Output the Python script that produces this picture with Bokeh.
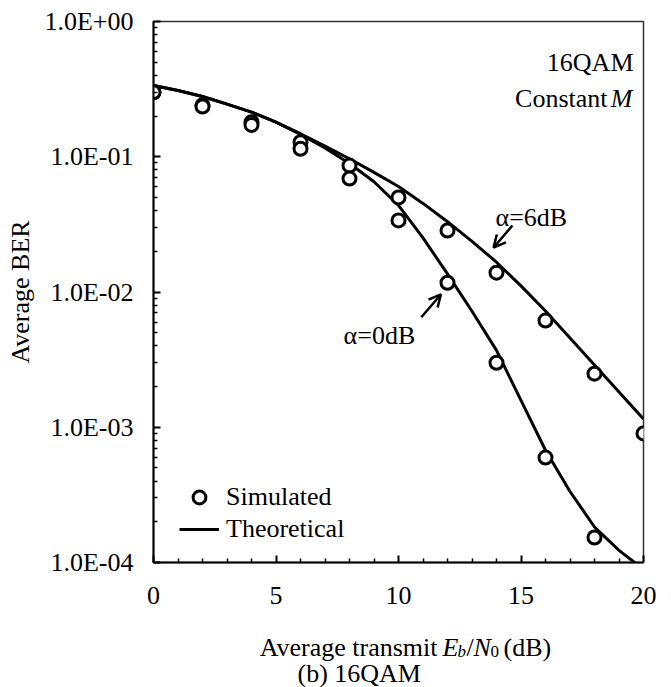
from bokeh.plotting import figure
from bokeh.layouts import column
from bokeh.models import (Range1d, FixedTicker, CustomJSTickFormatter, Legend, LegendItem,
                          Label, Arrow, OpenHead)
from bokeh.core.properties import value
from bokeh.embed import file_html
from bokeh.resources import INLINE

# ---------------- data ----------------
snr_sim = [0, 2, 4, 6, 8, 10, 12, 14, 16, 18, 20]
ber_sim_a6 = [0.30, 0.24, 0.18, 0.128, 0.086, 0.050, 0.0285, 0.0139, 0.00615, 0.00249, 0.0009]
snr_sim_a0 = [0, 2, 4, 6, 8, 10, 12, 14, 16, 18]
ber_sim_a0 = [0.30, 0.235, 0.172, 0.1145, 0.069, 0.0338, 0.0117, 0.0030, 0.000597, 0.000153]

snr_th = [0, 1, 2, 3, 4, 5, 6, 7, 8, 9, 10, 11, 12, 13, 14, 15, 16, 17, 18, 19, 20]
ber_th_a6 = [0.336, 0.309, 0.279, 0.245, 0.214, 0.180, 0.148, 0.120, 0.0966, 0.0767, 0.0603,
             0.0452, 0.0331, 0.0237, 0.0166, 0.0111, 0.00724, 0.00457, 0.00288, 0.00182, 0.00115]
ber_th_a0 = [0.336, 0.309, 0.279, 0.245, 0.214, 0.180, 0.146, 0.116, 0.0891, 0.0653, 0.0437,
             0.0251, 0.0136, 0.0072, 0.0037, 0.00158, 0.000676, 0.000335, 0.000183, 0.000123, 0.000089]

x_ticks = [0, 5, 10, 15, 20]
x_minor_ticks = [1, 2, 3, 4, 6, 7, 8, 9, 11, 12, 13, 14, 16, 17, 18, 19]
y_ticks = [1e-4, 1e-3, 1e-2, 1e-1, 1.0]
y_tick_labels = ["1.0E-04", "1.0E-03", "1.0E-02", "1.0E-01", "1.0E+00"]

FONT = "Liberation Serif"
FS = "26px"

p = figure(width=671, height=625,
           x_range=Range1d(0, 20), y_range=Range1d(1e-4, 1.0), y_axis_type="log",
           output_backend="svg", toolbar_location=None,
           min_border_left=153, min_border_right=28, min_border_top=21, min_border_bottom=63,
           background_fill_color="white", border_fill_color="white")
p.grid.visible = False
p.outline_line_color = "#333333"
p.outline_line_width = 1.5

y_minor = [k * t for t in y_ticks[:-1] for k in range(2, 10)]
p.xaxis[0].ticker = FixedTicker(ticks=x_ticks, minor_ticks=x_minor_ticks)
p.yaxis[0].ticker = FixedTicker(ticks=y_ticks, minor_ticks=y_minor)
p.yaxis[0].formatter = CustomJSTickFormatter(
    args=dict(labels=y_tick_labels, vals=y_ticks),
    code="""
    let best = 0, bd = 1e9;
    for (let i = 0; i < vals.length; i++) {
      const d = Math.abs(Math.log10(vals[i]) - Math.log10(tick));
      if (d < bd) { bd = d; best = i; }
    }
    return labels[best];
    """)

for ax in (p.xaxis[0], p.yaxis[0]):
    ax.axis_line_width = 2
    ax.axis_line_color = "black"
    ax.major_tick_in = 7
    ax.major_tick_out = 0
    ax.minor_tick_in = 4
    ax.minor_tick_out = 0
    ax.major_tick_line_width = 2
    ax.minor_tick_line_width = 1.5
    ax.major_tick_line_color = "black"
    ax.minor_tick_line_color = "black"
    ax.major_label_text_font = FONT
    ax.major_label_text_font_size = FS
    ax.major_label_text_color = "black"

p.yaxis[0].major_label_standoff = 20
p.xaxis[0].major_label_standoff = 24
p.yaxis[0].axis_label = "Average BER"
p.yaxis[0].axis_label_text_font = FONT
p.yaxis[0].axis_label_text_font_size = FS
p.yaxis[0].axis_label_text_font_style = "normal"
p.yaxis[0].axis_label_text_color = "black"
p.yaxis[0].axis_label_standoff = 6

# theoretical curves
th6 = p.line(snr_th, ber_th_a6, line_color="black", line_width=3, line_join="round")
th0 = p.line(snr_th, ber_th_a0, line_color="black", line_width=3, line_join="round")
# simulated points
s6 = p.scatter(snr_sim, ber_sim_a6, marker="circle", size=13, line_color="black",
               line_width=3, fill_color="white")
s0 = p.scatter(snr_sim_a0, ber_sim_a0, marker="circle", size=13, line_color="black",
               line_width=3, fill_color="white")

legend = Legend(items=[LegendItem(label="Simulated", renderers=[s0]),
                       LegendItem(label="Theoretical", renderers=[th0])],
                location=(26, 17), glyph_width=40, glyph_height=32, label_height=32,
                spacing=0, padding=0, margin=0, label_standoff=7,
                border_line_color=None, background_fill_alpha=0,
                label_text_font=FONT, label_text_font_size=FS, label_text_color="black")
p.add_layout(legend)

def lab(text, x, y, units="screen", align="left", style="normal", size=FS):
    p.add_layout(Label(text=text, x=x, y=y, x_units=units, y_units=units,
                       text_align=align, text_baseline="alphabetic",
                       text_font=FONT, text_font_size=size, text_font_style=style,
                       text_color="black"))

# corner annotation
lab("16QAM", 480, 500, align="right")
lab("Constant", 454, 464, align="right")
lab("M", 479, 464, align="right", style="italic")

# curve annotations
lab("\u03b1=6dB", 13.96, 0.0357, units="data")
lab("\u03b1=0dB", 7.76, 0.00477, units="data")
p.add_layout(Arrow(end=OpenHead(size=12, line_width=2.5, line_color="black"),
                   x_start=14.65, y_start=0.031, x_end=13.88, y_end=0.0213,
                   line_width=2.5, line_color="black"))
p.add_layout(Arrow(end=OpenHead(size=12, line_width=2.5, line_color="black"),
                   x_start=10.93, y_start=0.00651, x_end=11.73, y_end=0.00959,
                   line_width=2.5, line_color="black"))

# ---------------- bottom strip with the axis title and caption ----------------
# (its frame is aligned with the main frame, so the range spans the frame's pixels)
p2 = figure(width=671, height=62, x_range=Range1d(153, 643), y_range=Range1d(0, 62),
            output_backend="svg", toolbar_location=None,
            min_border_left=153, min_border_right=28, min_border_top=0, min_border_bottom=0,
            x_axis_location=None, y_axis_location=None,
            background_fill_color="white", border_fill_color="white")
p2.outline_line_color = None
p2.grid.visible = False

def txt(text, x, y, align="left", style="normal", size=FS):
    p2.text(x=[x], y=[y], text=[text], text_align=align, text_baseline="alphabetic",
            text_font=value(FONT), text_font_size=value(size), text_font_style=style,
            text_color="black")

txt("Average transmit", 437, 40, align="right")
txt("E", 442, 40, style="italic")
txt("b", 457, 36, style="italic", size="17px")
txt("/", 466, 40)
txt("N", 473, 40, style="italic")
txt("0", 490, 36, size="17px")
txt("(dB)", 503, 40)
txt("(b) 16QAM", 297, 14)

layout = column(p, p2, spacing=0)
open("out.html", "w").write(file_html(layout, INLINE))
